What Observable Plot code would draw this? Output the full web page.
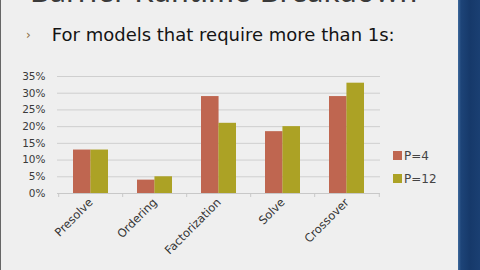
<!DOCTYPE html>
<html><head><meta charset="utf-8">
<script src="https://cdn.jsdelivr.net/npm/d3@7"></script>
<script src="https://cdn.jsdelivr.net/npm/@observablehq/plot@0.6"></script>
<style>
html,body{margin:0;padding:0;width:480px;height:270px;overflow:hidden;background:#efefef;font-family:"DejaVu Sans",sans-serif;}
#page{position:relative;width:480px;height:270px;}
#title{position:absolute;left:30px;top:-29px;font-family:Lato,sans-serif;font-size:31px;color:#3a3a3a;white-space:nowrap;letter-spacing:0.5px;}
#sub{position:absolute;left:26px;top:24px;font-family:"DejaVu Sans",sans-serif;font-size:18px;color:#141414;white-space:nowrap;}
#sub .b{color:#8a6a40;font-size:12px;margin-right:21px;position:relative;top:-2px;}
#chart{position:absolute;left:0;top:60px;}
#legend{position:absolute;left:393px;top:144px;font-family:"DejaVu Sans",sans-serif;font-size:12px;color:#444;}
#legend div{height:23px;display:flex;align-items:center;}
#legend span.sw{display:inline-block;width:9px;height:9px;margin-right:2px;}
#strip{position:absolute;left:458px;top:0;width:22px;height:270px;background:linear-gradient(90deg,#3f6a9c 0px,#1d4478 3px,#16396a 12px,#1a3f72 22px);}
#edge{position:absolute;left:0;top:0;width:1px;height:270px;background:#666;}
</style></head>
<body><div id="page">
<div id="title">Barrier Runtime Breakdown</div>
<div id="sub"><span class="b">&#8250;</span>For models that require more than 1s:</div>
<div id="chart"></div>
<div id="legend"></div>
<div id="strip"></div>
<div id="edge"></div>
</div>
<script>
const categories = ["Presolve", "Ordering", "Factorization", "Solve", "Crossover"];
const seriesNames = ["P=4", "P=12"];
const p4Values = [0.13, 0.04, 0.29, 0.185, 0.29];
const p12Values = [0.13, 0.05, 0.21, 0.20, 0.33];
const yTicks = [0, 0.05, 0.10, 0.15, 0.20, 0.25, 0.30, 0.35];
const colors = ["#bf6650", "#aca225"];

const rows = categories.map((c, i) => ({category: c, p4: p4Values[i], p12: p12Values[i]}));
const half = 64.6 * 0.54 / 2;

const chart = Plot.plot({
  width: 458,
  height: 210,
  marginLeft: 57,
  marginRight: 78,
  marginTop: 16,
  marginBottom: 77,
  style: {background: "transparent", fontFamily: "DejaVu Sans, sans-serif"},
  x: {domain: categories, paddingInner: 0.46, paddingOuter: 0.23, label: null},
  y: {domain: [0, 0.35], label: null},
  marks: [
    Plot.ruleY(yTicks, {stroke: "#cfcfcf", strokeWidth: 1}),
    Plot.barY(rows, {x: "category", y: "p4", fill: colors[0], insetRight: half, insetLeft: 0}),
    Plot.barY(rows, {x: "category", y: "p12", fill: colors[1], insetLeft: half, insetRight: 0}),
    Plot.ruleY([0], {stroke: "#c8c8c8"}),
    Plot.ruleX(categories, {x: d => d, y1: 0, y2: 0, dx: -32.3, insetBottom: -4, stroke: "#c8c8c8"}),
    Plot.ruleX(categories.slice(-1), {x: d => d, y1: 0, y2: 0, dx: 32.3, insetBottom: -4, stroke: "#c8c8c8"}),
    Plot.axisY(yTicks, {tickFormat: d3.format(".0%"), tickSize: 0, tickPadding: 12, fontSize: 10.5, fill: "#3a3a3a"}),
    Plot.axisX({tickSize: 0, tickRotate: -45, tickPadding: 7, fontSize: 11.5, fill: "#333", fontWeight: 500})
  ]
});
document.getElementById("chart").appendChild(chart);

const legend = document.getElementById("legend");
seriesNames.forEach((s, i) => {
  const d = document.createElement("div");
  d.innerHTML = `<span class="sw" style="background:${colors[i]}"></span>${s}`;
  legend.appendChild(d);
});
</script>
</body></html>
